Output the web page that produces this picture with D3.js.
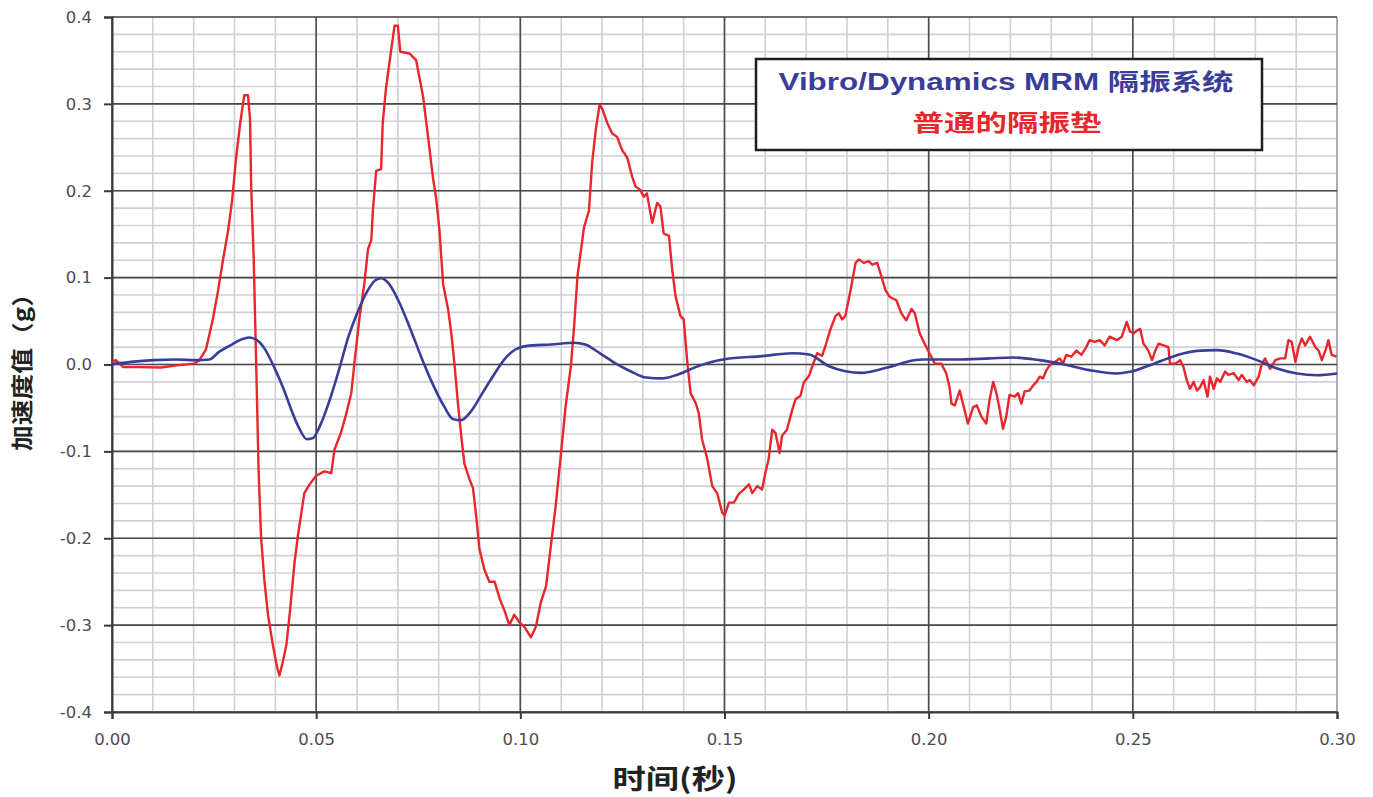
<!DOCTYPE html>
<html>
<head>
<meta charset="utf-8">
<script src="https://cdn.jsdelivr.net/npm/d3@7"></script>
<style>
  html, body { margin: 0; padding: 0; background: #fff; }
  svg { display: block; }
</style>
</head>
<body>
<svg id="chart" width="1373" height="797"></svg>
<script>
// Time axis (s) and acceleration (g) for the ordinary isolation pad
const timeRed = [0,0.0009,0.0028,0.0065,0.012,0.0159,0.0201,0.0214,0.023,0.0247,0.0259,0.0271,0.0284,0.0294,0.0304,0.0314,0.0324,0.0333,0.0338,0.0341,0.0347,0.0351,0.0355,0.0359,0.0365,0.0373,0.0382,0.0394,0.0404,0.041,0.0418,0.0427,0.0435,0.0447,0.0455,0.0463,0.0471,0.0484,0.05,0.052,0.0537,0.0545,0.0561,0.0573,0.0586,0.0594,0.0606,0.0618,0.0627,0.0635,0.0639,0.0647,0.0659,0.0663,0.0671,0.0684,0.0692,0.07,0.0706,0.0729,0.0745,0.0762,0.0774,0.0786,0.0794,0.0802,0.0811,0.0823,0.0831,0.0839,0.0847,0.0855,0.0863,0.0876,0.0884,0.0892,0.09,0.0912,0.0924,0.0937,0.0949,0.0961,0.0973,0.0985,0.0998,0.101,0.1026,0.1038,0.105,0.1063,0.1075,0.1087,0.1099,0.1111,0.1124,0.1132,0.114,0.1148,0.1156,0.1168,0.1176,0.1185,0.1194,0.1201,0.1213,0.1225,0.1237,0.1249,0.1262,0.1274,0.1282,0.1294,0.1302,0.131,0.1323,0.1335,0.1343,0.1351,0.1364,0.1372,0.138,0.1392,0.14,0.1409,0.1417,0.1429,0.1437,0.1445,0.1458,0.147,0.1482,0.1494,0.15,0.1511,0.1523,0.1535,0.1547,0.156,0.1568,0.158,0.1592,0.16,0.1608,0.1617,0.1625,0.1635,0.1641,0.1653,0.1666,0.1674,0.1686,0.1694,0.1707,0.1715,0.1727,0.1739,0.1747,0.1759,0.1772,0.178,0.1788,0.1796,0.1809,0.1821,0.1829,0.1841,0.1853,0.1862,0.1874,0.1882,0.1894,0.1904,0.1921,0.1933,0.1945,0.1958,0.1966,0.1978,0.199,0.2002,0.2015,0.2031,0.2043,0.2051,0.2056,0.2064,0.2076,0.2084,0.2096,0.2109,0.2118,0.2129,0.2141,0.2149,0.2158,0.2166,0.2174,0.2182,0.219,0.2198,0.2211,0.2219,0.2227,0.2235,0.2247,0.2256,0.2264,0.2272,0.228,0.2288,0.2296,0.2309,0.2321,0.2329,0.2337,0.2349,0.2362,0.2374,0.2386,0.2394,0.2407,0.2419,0.2431,0.2443,0.2461,0.2473,0.2485,0.2493,0.2502,0.251,0.2518,0.2526,0.2538,0.2547,0.2555,0.2563,0.2575,0.2587,0.2591,0.2604,0.2616,0.2624,0.2632,0.264,0.2649,0.2657,0.2665,0.2673,0.2683,0.2689,0.2698,0.2706,0.2714,0.2726,0.2734,0.2747,0.2759,0.2767,0.2779,0.2787,0.2796,0.2808,0.2816,0.2824,0.2836,0.2849,0.2861,0.2873,0.2881,0.2889,0.2898,0.2906,0.2914,0.2922,0.2934,0.2947,0.2955,0.2963,0.2973,0.2979,0.2987,0.2999];
const accelRed = [0.003,0.005,-0.003,-0.003,-0.0035,-0.001,0.001,0.005,0.017,0.052,0.083,0.118,0.153,0.188,0.238,0.278,0.31,0.31,0.283,0.2025,0.1225,0.0425,-0.0375,-0.1225,-0.198,-0.248,-0.288,-0.323,-0.348,-0.358,-0.343,-0.323,-0.288,-0.228,-0.198,-0.173,-0.148,-0.138,-0.128,-0.123,-0.125,-0.098,-0.078,-0.058,-0.033,0.003,0.053,0.093,0.133,0.143,0.178,0.223,0.225,0.278,0.318,0.363,0.39,0.39,0.36,0.358,0.35,0.308,0.262,0.215,0.191,0.154,0.092,0.064,0.036,-0.001,-0.044,-0.081,-0.114,-0.133,-0.142,-0.175,-0.213,-0.236,-0.25,-0.25,-0.269,-0.283,-0.3,-0.288,-0.297,-0.302,-0.314,-0.302,-0.274,-0.255,-0.208,-0.161,-0.105,-0.048,-0.001,0.046,0.102,0.13,0.158,0.177,0.233,0.271,0.299,0.294,0.278,0.266,0.262,0.247,0.238,0.216,0.205,0.201,0.193,0.197,0.163,0.186,0.182,0.151,0.148,0.109,0.079,0.056,0.052,0.002,-0.033,-0.044,-0.056,-0.086,-0.109,-0.14,-0.148,-0.17,-0.174,-0.159,-0.159,-0.149,-0.144,-0.138,-0.148,-0.14,-0.144,-0.125,-0.109,-0.075,-0.079,-0.102,-0.082,-0.075,-0.052,-0.04,-0.036,-0.021,-0.013,-0.002,0.013,0.01,0.021,0.04,0.056,0.059,0.052,0.056,0.086,0.117,0.121,0.117,0.119,0.115,0.117,0.105,0.086,0.078,0.074,0.059,0.051,0.064,0.059,0.036,0.024,0.013,0.001,0.001,-0.01,-0.026,-0.045,-0.047,-0.03,-0.045,-0.068,-0.049,-0.047,-0.06,-0.068,-0.041,-0.02,-0.033,-0.052,-0.074,-0.06,-0.035,-0.037,-0.033,-0.045,-0.031,-0.03,-0.024,-0.02,-0.014,-0.016,-0.007,-0.001,0.003,0.007,0.001,0.011,0.009,0.016,0.011,0.02,0.028,0.026,0.028,0.022,0.032,0.028,0.032,0.049,0.038,0.036,0.039,0.041,0.024,0.016,0.005,0.016,0.024,0.022,0.02,0.001,0.001,0.005,-0.003,-0.018,-0.028,-0.02,-0.03,-0.026,-0.018,-0.037,-0.014,-0.028,-0.016,-0.02,-0.008,-0.012,-0.01,-0.018,-0.012,-0.02,-0.018,-0.024,-0.014,0.001,0.007,-0.005,0.005,0.007,0.007,0.028,0.026,0.003,0.02,0.03,0.022,0.032,0.02,0.016,0.005,0.018,0.028,0.011,0.009];

// Time axis (s) and acceleration (g) for the Vibro/Dynamics MRM system
const timeBlue = [0,0.0047,0.0103,0.0159,0.0206,0.0238,0.0262,0.029,0.0318,0.0336,0.0355,0.0374,0.0397,0.0421,0.0439,0.0458,0.0477,0.0491,0.0509,0.0533,0.0556,0.0579,0.0603,0.0626,0.0645,0.0659,0.0678,0.0701,0.0729,0.0757,0.0785,0.0813,0.0836,0.0855,0.0879,0.0907,0.0935,0.0963,0.0991,0.1028,0.1075,0.1131,0.1159,0.1196,0.1234,0.1271,0.1308,0.1346,0.1383,0.1429,0.15,0.1592,0.1666,0.1707,0.1756,0.1796,0.1837,0.1878,0.1904,0.1945,0.1986,0.2068,0.2149,0.2207,0.2272,0.2329,0.2394,0.246,0.2493,0.2542,0.2608,0.2657,0.2706,0.2755,0.2804,0.2853,0.2902,0.2951,0.3];
const accelBlue = [0.0004,0.003,0.005,0.0057,0.005,0.0057,0.0145,0.022,0.029,0.031,0.028,0.018,-0.003,-0.029,-0.052,-0.073,-0.086,-0.085,-0.071,-0.041,-0.006,0.032,0.062,0.085,0.097,0.0994,0.093,0.074,0.043,0.009,-0.022,-0.048,-0.063,-0.064,-0.054,-0.033,-0.012,0.007,0.018,0.022,0.023,0.025,0.023,0.0126,0.001,-0.008,-0.015,-0.016,-0.012,-0.003,0.006,0.0096,0.013,0.0115,-0.002,-0.0077,-0.0096,-0.006,-0.003,0.003,0.0057,0.0057,0.007,0.008,0.005,0.0004,-0.0065,-0.0103,-0.0084,-0.0008,0.0107,0.0157,0.0165,0.0126,0.005,-0.0046,-0.0103,-0.0123,-0.0103];

// Axis ticks and labels
const xTicks = [0, 0.05, 0.10, 0.15, 0.20, 0.25, 0.30];
const xTickLabels = ["0.00", "0.05", "0.10", "0.15", "0.20", "0.25", "0.30"];
const yTicks = [0.4, 0.3, 0.2, 0.1, 0, -0.1, -0.2, -0.3, -0.4];
const yTickLabels = ["0.4", "0.3", "0.2", "0.1", "0.0", "-0.1", "-0.2", "-0.3", "-0.4"];
const xMinorTicks = d3.range(0, 31).map(i => i / 100);
const yMinorTicks = d3.range(-20, 21).map(i => i / 50);

const seriesNames = ["Vibro/Dynamics MRM 隔振系统", "普通的隔振垫"];
const xTitle = "时间(秒)";
const yTitle = "加速度值（g）";

const colorBlue = "#3a3d98";
const colorRed = "#e8262b";

const svg = d3.select("#chart");
const plot = { left: 112, right: 1337, top: 17, bottom: 712 };

const x = d3.scaleLinear().domain([0, 0.3]).range([plot.left, plot.right]);
const y = d3.scaleLinear().domain([-0.4, 0.4]).range([plot.bottom, plot.top]);

// Minor grid
const grid = svg.append("g");
grid.selectAll("line.vminor").data(xMinorTicks).join("line")
  .attr("x1", d => x(d)).attr("x2", d => x(d))
  .attr("y1", plot.top).attr("y2", plot.bottom)
  .attr("stroke", "#cfd0d8").attr("stroke-width", 1.6);
grid.selectAll("line.hminor").data(yMinorTicks).join("line")
  .attr("x1", plot.left).attr("x2", plot.right)
  .attr("y1", d => y(d)).attr("y2", d => y(d))
  .attr("stroke", "#cfd0d8").attr("stroke-width", 1.6);

// Major grid
grid.selectAll("line.vmajor").data(xTicks.slice(0, -1)).join("line")
  .attr("x1", d => x(d)).attr("x2", d => x(d))
  .attr("y1", plot.top).attr("y2", plot.bottom)
  .attr("stroke", "#4a4a4a").attr("stroke-width", 1.6);
grid.append("line")
  .attr("x1", x(0.3)).attr("x2", x(0.3))
  .attr("y1", plot.top).attr("y2", plot.bottom)
  .attr("stroke", "#a0a0a8").attr("stroke-width", 1.6);
grid.selectAll("line.hmajor").data(yTicks).join("line")
  .attr("x1", plot.left).attr("x2", plot.right)
  .attr("y1", d => y(d)).attr("y2", d => y(d))
  .attr("stroke", "#4a4a4a").attr("stroke-width", 1.6);

// Axes
const xAxis = d3.axisBottom(x).tickValues(xTicks)
  .tickFormat((d, i) => xTickLabels[i]).tickSize(7).tickPadding(14);
const yAxis = d3.axisLeft(y).tickValues(yTicks)
  .tickFormat((d, i) => yTickLabels[i]).tickSize(8).tickPadding(12);

const gx = svg.append("g").attr("transform", `translate(0,${plot.bottom})`).call(xAxis);
const gy = svg.append("g").attr("transform", `translate(${plot.left},0)`).call(yAxis);
[gx, gy].forEach(g => {
  g.select(".domain").attr("stroke", "#3a3a3a").attr("stroke-width", 2);
  g.selectAll(".tick line").attr("stroke", "#3a3a3a").attr("stroke-width", 2);
  g.selectAll(".tick text")
    .attr("fill", "#4d4d4d")
    .style("font-family", "'DejaVu Sans', sans-serif")
    .style("font-size", "16.5px");
});

// Data lines
const lineRed = d3.line().x((d, i) => x(timeRed[i])).y(d => y(d)).curve(d3.curveLinear);
const lineBlue = d3.line().x((d, i) => x(timeBlue[i])).y(d => y(d)).curve(d3.curveMonotoneX);

svg.append("path").datum(accelRed).attr("d", lineRed)
  .attr("fill", "none").attr("stroke", colorRed).attr("stroke-width", 2.4)
  .attr("stroke-linejoin", "round");
svg.append("path").datum(accelBlue).attr("d", lineBlue)
  .attr("fill", "none").attr("stroke", colorBlue).attr("stroke-width", 2.6)
  .attr("stroke-linejoin", "round");

// Legend box
const legend = svg.append("g");
legend.append("rect")
  .attr("x", 756).attr("y", 59).attr("width", 506).attr("height", 91)
  .attr("fill", "#fff").attr("stroke", "#1e1e1e").attr("stroke-width", 2.5);
legend.append("text")
  .attr("x", 1006).attr("y", 90)
  .attr("text-anchor", "middle")
  .attr("textLength", 455).attr("lengthAdjust", "spacingAndGlyphs")
  .attr("fill", colorBlue)
  .style("font-family", "'Liberation Sans', 'Noto Sans CJK SC', sans-serif")
  .style("font-weight", "bold").style("font-size", "23px")
  .text(seriesNames[0]);
legend.append("text")
  .attr("x", 1007).attr("y", 131)
  .attr("text-anchor", "middle")
  .attr("textLength", 189).attr("lengthAdjust", "spacingAndGlyphs")
  .attr("fill", colorRed)
  .style("font-family", "'Noto Sans CJK SC', sans-serif")
  .style("font-weight", "bold").style("font-size", "23px")
  .text(seriesNames[1]);

// Axis titles
svg.append("text")
  .attr("x", 675).attr("y", 789)
  .attr("text-anchor", "middle")
  .attr("textLength", 125).attr("lengthAdjust", "spacingAndGlyphs")
  .attr("fill", "#222")
  .style("font-family", "'Noto Sans CJK SC', sans-serif")
  .style("font-weight", "bold").style("font-size", "27px")
  .text(xTitle);
svg.append("text")
  .attr("transform", "translate(30,366) rotate(-90)")
  .attr("text-anchor", "middle")
  .attr("textLength", 170).attr("lengthAdjust", "spacingAndGlyphs")
  .attr("fill", "#222")
  .style("font-family", "'Noto Sans CJK SC', sans-serif")
  .style("font-weight", "bold").style("font-size", "22px")
  .text(yTitle);
</script>
</body>
</html>
